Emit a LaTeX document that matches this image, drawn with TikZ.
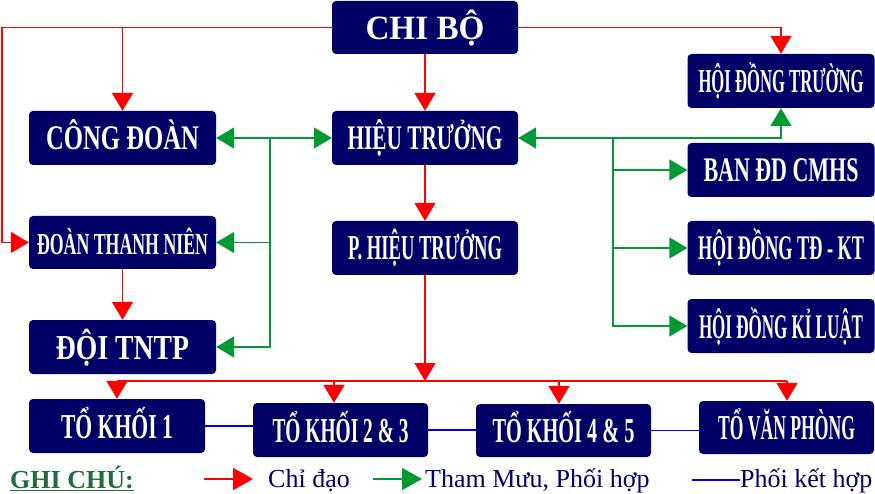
\documentclass[tikz,border=0pt]{standalone}
\usepackage{fontspec}
\setmainfont{Liberation Serif}
\usetikzlibrary{arrows.meta}
\definecolor{navybox}{RGB}{0,0,102}
\definecolor{rd}{RGB}{255,0,0}
\definecolor{grn}{RGB}{0,153,51}
\definecolor{blu}{RGB}{0,0,255}
\definecolor{legendgreen}{RGB}{30,110,60}
\newcommand\bxt[3]{\resizebox{#2pt}{\height}{\fontsize{#1pt}{#1pt}\selectfont\bfseries #3}}
\begin{document}
\begin{tikzpicture}[x=1pt,y=-1pt,
  box/.style={fill=navybox, rounded corners=4pt, text=white, inner sep=0pt,
    text height=24pt, text depth=0pt, minimum height=54pt},
  redl/.style={draw=rd, line width=1.9pt},
  redarr/.style={redl, -{Triangle[length=18pt,width=21pt]}},
  grl/.style={draw=grn, line width=1.9pt},
  grarr/.style={grl, -{Triangle[length=18pt,width=21pt]}},
  grdbl/.style={grl, {Triangle[length=18pt,width=21pt]}-{Triangle[length=18pt,width=21pt]}},
  bll/.style={draw=blu, line width=1.6pt},
  legtext/.style={anchor=base west, inner sep=0pt, text=navybox, font=\fontsize{26pt}{26pt}\selectfont}
]
\useasboundingbox (0,0) rectangle (875,494);

% boxes
\node[box, minimum width=186pt, minimum height=53pt] (chibo) at (425,27.5) {\bxt{34}{119}{CHI BỘ}};
\node[box, minimum width=187pt] (congdoan) at (122.5,138) {\bxt{34.5}{153}{CÔNG ĐOÀN}};
\node[box, minimum width=186pt] (hieutruong) at (425,138) {\bxt{34.5}{155}{HIỆU TRƯỞNG}};
\node[box, minimum width=187pt] (hdt) at (781,81) {\bxt{33.5}{165}{HỘI ĐỒNG TRƯỜNG}};
\node[box, minimum width=187pt] (ban) at (781,170) {\bxt{34.5}{155}{BAN ĐD CMHS}};
\node[box, minimum width=187pt] (tdkt) at (781,248) {\bxt{34.5}{166}{HỘI ĐỒNG TĐ - KT}};
\node[box, minimum width=187pt] (kl) at (781,326) {\bxt{34.5}{164}{HỘI ĐỒNG KỈ LUẬT}};
\node[box, minimum width=187pt, minimum height=53pt] (dtn) at (122.5,242.5) {\bxt{30.5}{171}{ĐOÀN THANH NIÊN}};
\node[box, minimum width=186pt] (pht) at (425,248) {\bxt{35}{154}{P. HIỆU TRƯỞNG}};
\node[box, minimum width=187pt] (doi) at (122.5,347) {\bxt{35}{133}{ĐỘI TNTP}};
\node[box, minimum width=176pt] (tk1) at (117,426) {\bxt{35}{112}{TỔ KHỐI 1}};
\node[box, minimum width=175pt] (tk23) at (340.5,430) {\bxt{35}{136}{TỔ KHỐI 2 \& 3}};
\node[box, minimum width=175pt, minimum height=53pt] (tk45) at (563.5,430.5) {\bxt{35}{142}{TỔ KHỐI 4 \& 5}};
\node[box, minimum width=175pt, minimum height=53pt] (tvp) at (786.5,427.5) {\bxt{35}{137}{TỔ VĂN PHÒNG}};

% red: chi dao
\coordinate (lc) at (2,27.5);
\draw[redarr] (chibo.west) -- (lc) |- (dtn.west);
\draw[redarr] (chibo.west -| congdoan.north) -- (congdoan.north);
\draw[redarr] (chibo.east) -| (hdt.north);
\draw[redarr] (chibo.south) -- (hieutruong.north);
\draw[redarr] (hieutruong.south) -- (pht.north);
\draw[redarr] (dtn.south) -- (doi.north);
\coordinate (busL) at (117,381);
\coordinate (busR) at (787,381);
\coordinate (b2) at (334,381);
\coordinate (b3) at (559,381);
\draw[redarr] (pht.south) -- (pht.south |- busL);
\draw[redl] (busL) -- (busR);
\draw[redarr] (busL) -- (tk1.north);
\draw[redarr] (b2) -- (b2 |- tk23.north);
\draw[redarr] (b3) -- (b3 |- tk45.north);
\draw[redarr] (busR) -- (busR |- tvp.north);

% green: tham muu, phoi hop
\draw[grdbl] (congdoan.east) -- (hieutruong.west);
\coordinate (gl) at (270,138);
\draw[grarr] (gl) |- (doi.east);
\draw[grarr] (gl |- dtn.east) -- (dtn.east);
\draw[grdbl] (hieutruong.east) -| (hdt.south);
\coordinate (gr0) at (613,138);
\draw[grarr] (gr0) |- (kl.west);
\draw[grarr] (gr0 |- ban.west) -- (ban.west);
\draw[grarr] (gr0 |- tdkt.west) -- (tdkt.west);

% blue: phoi ket hop
\draw[bll] (tk1.east) -- (tk1.east -| tk23.west);
\draw[bll] (tk23.east) -- (tk23.east -| tk45.west);
\draw[bll] (tk45.east) -- (tk45.east -| tvp.west);

% legend
\node[anchor=base west, inner sep=0pt, text=legendgreen, font=\fontsize{26pt}{26pt}\selectfont\bfseries] (ghichu) at (10,488) {\underline{GHI CHÚ:}};
\coordinate (lr1) at (204,479);
\coordinate (lr2) at (253,479);
\draw[redarr, -{Triangle[length=20pt,width=22pt]}] (lr1) -- (lr2);
\node[legtext] (lchidao) at (268,487) {Chỉ đạo};
\coordinate (lg1) at (373,479);
\coordinate (lg2) at (422,479);
\draw[grarr, -{Triangle[length=20pt,width=22pt]}] (lg1) -- (lg2);
\node[legtext] (ltham) at (425,487) {Tham Mưu, Phối hợp};
\coordinate (lb1) at (692,480);
\draw[bll] (lb1) -- (740,480) coordinate (lb2);
\node[legtext] (lphoi) at (740,487) {Phối kết hợp};
\end{tikzpicture}
\end{document}
